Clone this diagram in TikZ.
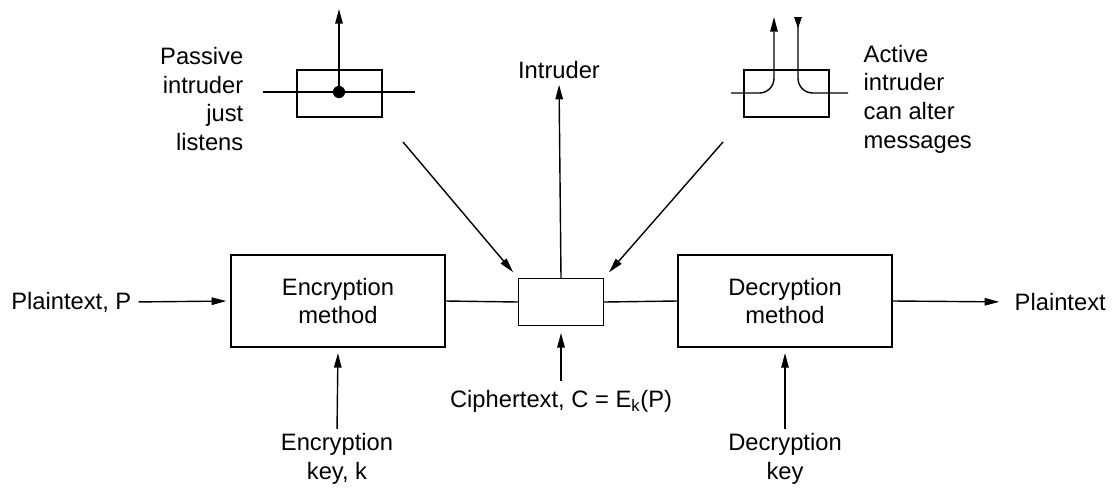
\documentclass[tikz,border=0pt]{standalone}
\usepackage{fontspec}
\setmainfont{Liberation Sans}
\usetikzlibrary{arrows.meta}
\begin{document}
\begin{tikzpicture}[x=0.75pt,y=-0.75pt,
  line width=1.05pt,
  font=\fontsize{17.8}{21.5}\selectfont,
  bigbox/.style={draw,rectangle,minimum width=160.5pt,minimum height=69pt,align=center,inner sep=0pt},
  smallbox/.style={draw,rectangle,minimum width=63.75pt,minimum height=35.25pt,inner sep=0pt},
  lbl/.style={inner sep=0pt},
  arr/.style={-{Triangle[length=11pt,width=5.6pt]}},
  rarr/.style={{Triangle[length=8.5pt,width=5.6pt,reversed]}-}
]
\useasboundingbox (0,0) rectangle (1120,493);

% main boxes
\node[bigbox] (enc) at (338,301) {Encryption\\method};
\node[smallbox] (mid) at (561,302) {};
\node[bigbox] (dec) at (785,301) {Decryption\\method};

% labels
\node[lbl,anchor=east] (ptin) at (132,302) {Plaintext, P};
\node[lbl,anchor=west] (ptout) at (1014,302) {Plaintext};
\node[lbl] (ciph) at (561,401) {Ciphertext, C = E\textsubscript{k}(P)};
\node[lbl,align=center] (enckey) at (337,459) {Encryption\\key, k};
\node[lbl,align=center] (deckey) at (785,459) {Decryption\\key};
\node[lbl] (intr) at (559,70) {Intruder};
\node[lbl,align=right,anchor=east] (plbl) at (244,99) {Passive\\intruder\\just\\listens};
\node[lbl,align=left,anchor=west] (albl) at (863,99) {Active\\intruder\\can alter\\messages};

% main connections
\draw[arr,shorten <=5pt,shorten >=3pt] (ptin.east) -- (enc.west);
\draw (enc.east) -- (mid.west);
\draw (mid.east) -- (dec.west);
\draw[arr,shorten >=11pt] (dec.east) -- (ptout.west);
\draw[arr,shorten <=6pt,shorten >=5pt] (ciph.north) -- (mid.south);
\draw[arr,shorten <=3pt,shorten >=4pt] (enckey.north) -- (enc.south);
\draw[arr,shorten <=3pt,shorten >=4pt] (deckey.north) -- (dec.south);
\draw[arr,shorten >=4pt] (mid.north) -- (intr.south);

% diagonal arrows
\coordinate (pstart) at (403,142);
\coordinate (astart) at (723,142);
\draw[arr,shorten >=5.5pt] (pstart) -- (mid.north west);
\draw[arr,shorten >=5.5pt] (astart) -- (mid.north east);

% passive intruder sketch
\node[smallbox] (pbox) at (339.5,93.5) {};
\coordinate (pl) at (263,92);
\coordinate (pr) at (415,92);
\coordinate (ptap) at (339,92);
\coordinate (ptop) at (339,9);
\draw (pl) -- (pr);
\fill (ptap) circle (4.6pt);
\draw[arr] (ptap) -- (ptop);

% active intruder sketch
\node[smallbox] (abox) at (786.5,93.5) {};
\coordinate (al) at (731,93);
\coordinate (aup) at (774,17);
\coordinate (adown) at (798,17);
\coordinate (ar) at (848,93);
\draw[arr,rounded corners=11pt] (al) -| (aup);
\draw[rarr,rounded corners=11pt] (adown) |- (ar);
\end{tikzpicture}
\end{document}
